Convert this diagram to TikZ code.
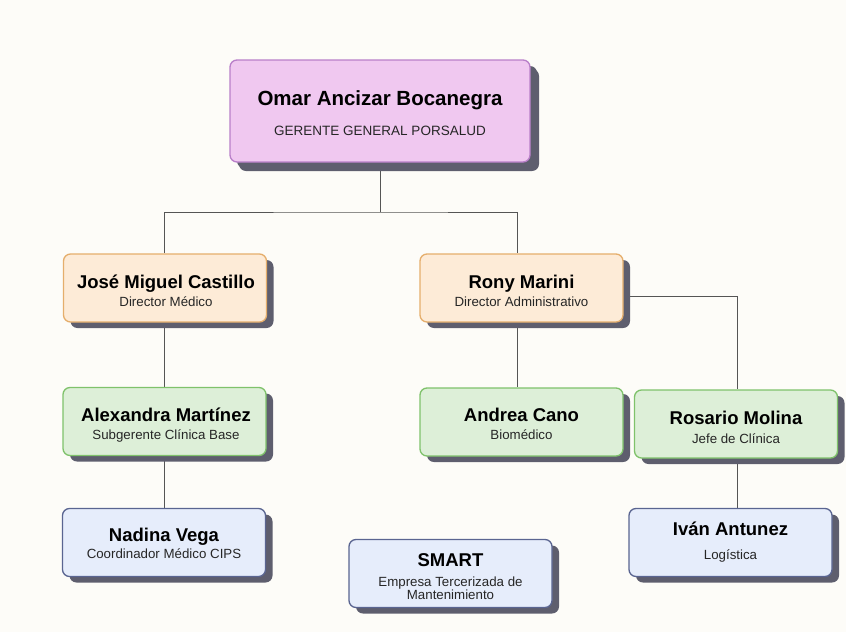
\documentclass[tikz,border=0pt]{standalone}
\usepackage{fontspec}
\setmainfont{Liberation Sans}
\usetikzlibrary{shadows,backgrounds}
\definecolor{paper}{HTML}{FDFCF8}
\definecolor{pinkfill}{HTML}{F0C8F0}
\definecolor{pinkline}{HTML}{B97FC9}
\definecolor{orangefill}{HTML}{FDEBD7}
\definecolor{orangeline}{HTML}{E5AE6C}
\definecolor{greenfill}{HTML}{DDEFD8}
\definecolor{greenline}{HTML}{7FC26B}
\definecolor{bluefill}{HTML}{E6EDFB}
\definecolor{blueline}{HTML}{5A6591}
\definecolor{shade}{HTML}{5E5E6E}
\definecolor{wirec}{HTML}{555555}

\begin{document}
\begin{tikzpicture}[x=1pt,y=-1pt,
  card/.style={draw, rounded corners=7pt, line width=1.3pt,
    inner sep=0pt, minimum width=203pt, minimum height=68pt,
    drop shadow={shadow xshift=7pt, shadow yshift=-6pt, fill=shade, opacity=1}},
  head/.style={card, fill=pinkfill, draw=pinkline, minimum width=300pt,
    minimum height=102pt,
    drop shadow={shadow xshift=9pt, shadow yshift=-9pt, fill=shade, opacity=1}},
  direc/.style={card, fill=orangefill, draw=orangeline},
  staff/.style={card, fill=greenfill, draw=greenline},
  base/.style={card, fill=bluefill, draw=blueline},
  nom/.style={anchor=base, inner sep=0pt, font=\fontsize{18.5}{22}\selectfont\bfseries},
  cargo/.style={anchor=base, inner sep=0pt, text=black!85, font=\fontsize{13.3}{16}\selectfont},
  wire/.style={draw=wirec, line width=0.9pt}]
  \useasboundingbox (0,0) rectangle (846,632);

  % gerencia
  \node[head] (gerente) at (380,111) {};
  \node[nom, font=\fontsize{20.5}{24}\selectfont\bfseries] (gerente-nom) at (380,105.3) {Omar Ancizar Bocanegra};
  \node[cargo, font=\fontsize{13.5}{16}\selectfont] (gerente-car) at (380,135.8) {GERENTE GENERAL PORSALUD};

  % direcciones
  \node[direc] (medico) at (165,288) {};
  \node[nom] (medico-nom) at (166,288.6) {José Miguel Castillo};
  \node[cargo] (medico-car) at (166,306.7) {Director Médico};
  \node[direc] (admin) at (521.5,288) {};
  \node[nom] (admin-nom) at (521.5,288.3) {Rony Marini};
  \node[cargo] (admin-car) at (521.5,306.5) {Director Administrativo};

  % jefaturas
  \node[staff] (clinica) at (164.5,421.5) {};
  \node[nom] (clinica-nom) at (166,421.6) {Alexandra Martínez};
  \node[cargo] (clinica-car) at (166,439.8) {Subgerente Clínica Base};
  \node[staff] (biomed) at (521.5,422) {};
  \node[nom] (biomed-nom) at (521.5,421.6) {Andrea Cano};
  \node[cargo] (biomed-car) at (521.5,439.8) {Biomédico};
  \node[staff] (jefe) at (736,424) {};
  \node[nom] (jefe-nom) at (736,424.9) {Rosario Molina};
  \node[cargo] (jefe-car) at (736,443.1) {Jefe de Clínica};

  % coordinaciones
  \node[base] (cips) at (164,542.5) {};
  \node[nom] (cips-nom) at (164,541.6) {Nadina Vega};
  \node[cargo] (cips-car) at (164,558.8) {Coordinador Médico CIPS};
  \node[base] (smart) at (450.5,573.5) {};
  \node[nom] (smart-nom) at (450.5,566.6) {SMART};
  \node[cargo] (smart-car) at (450.5,586.5) {Empresa Tercerizada de};
  \node[cargo] (smart-car2) at (450.5,599.8) {Mantenimiento};
  \node[base] (logist) at (730.5,542.5) {};
  \node[nom] (logist-nom) at (730.5,535.6) {Iván Antunez};
  \node[cargo] (logist-car) at (730.5,559.8) {Logística};

  % lineas de mando, detras de las cajas
  \begin{scope}[on background layer]
    \fill[paper] (0,0) rectangle (846,632);
    \coordinate (split) at (380,212);
    \draw[wire] (gerente.south) -- (split);
    \draw[wire] ([xshift=-1pt]medico.north) |- (split) -| ([xshift=-4pt]admin.north);
    \draw[wire] ([yshift=-8pt]admin.east) -| ([xshift=1pt]jefe.north);
    \draw[wire] ([xshift=-1pt]medico.south) -- ([xshift=-0.5pt]clinica.north);
    \draw[wire] ([xshift=-0.5pt]clinica.south) -- (cips.north);
    \draw[wire] ([xshift=-4pt]admin.south) -- ([xshift=-4pt]biomed.north);
    \draw[wire] ([xshift=1pt]jefe.south) -- ([xshift=1pt]jefe.south |- logist.north);
  \end{scope}
\end{tikzpicture}
\end{document}
